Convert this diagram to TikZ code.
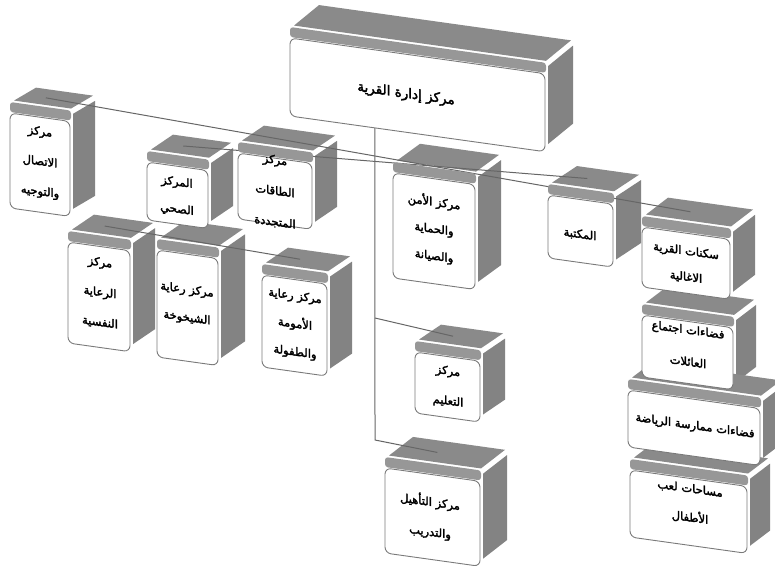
\documentclass[tikz,border=0pt]{standalone}
\usepackage{fontspec}
\newfontfamily\arabicfont[Script=Arabic,FakeBold=2.5]{DejaVu Sans}
\TeXXeTstate=1
\newcommand\artxt[1]{\beginR #1\endR}
\newcommand\lsp[1]{\arabicfont\fontsize{11.5}{#1}\selectfont}
\definecolor{panelc}{HTML}{8A8A8A}
\definecolor{sidec}{HTML}{838383}
\definecolor{lipc}{HTML}{979797}
\definecolor{bordergrey}{HTML}{7A7A7A}
\definecolor{linegrey}{HTML}{666666}
\pgfdeclarelayer{back}
\pgfdeclarelayer{lines}
\pgfsetlayers{back,lines,main}
\tikzset{
  face/.style={fill=white, draw=bordergrey, line width=0.9pt, rounded corners=6pt},
  label/.style={align=center, transform shape, inner sep=0pt},
  conn/.style={draw=linegrey, line width=1pt},
}
\newcommand\drawunit[9]{%
  \begin{scope}[shift={(#2,#3)}, yslant=-0.14]
    \begin{pgfonlayer}{back}
      \fill[panelc] (4,-13) -- (#4+1,-13) -- (#4+1+#6,-13-#7) -- (4+#6,-13-#7) -- cycle;
      \fill[sidec] (#4+3,-8) -- (#4+3+#6,-8-#7) -- (#4+3+#6,#5-8-#7) -- (#4+3,#5-8) -- cycle;
    \end{pgfonlayer}
    \fill[lipc, rounded corners=3pt] (0,-11) rectangle (#4+1,-1);
    \draw[face] (0,0) rectangle (#4,#5);
    \node[label,#8] (#1) {#9};
    \coordinate (#1-top) at (0.45*#4+0.4*#6, -13-0.45*#7);
    \coordinate (#1-bot) at (0.333*#4, #5);
  \end{scope}}
\begin{document}
\begin{tikzpicture}[x=1pt,y=-1pt]
\useasboundingbox (0,0) rectangle (775,566);
\drawunit{main}{290}{38}{255}{78}{25}{24}{at={(116,40)}, font=\arabicfont\fontsize{13.5}{16}\selectfont}{\artxt{مركز إدارة القرية}}
\drawunit{ittisal}{10}{113}{60}{95}{22}{16}{at={(30,45)},font=\lsp{30}}{\artxt{مركز}\\\artxt{الاتصال}\\\artxt{والتوجيه}}
\drawunit{sihhi}{147}{162}{61}{58}{22}{18}{at={(30,30)},font=\lsp{27}}{\artxt{المركز}\\\artxt{الصحي}}
\drawunit{taqat}{238}{153}{74}{66}{22}{18}{at={(37,33)},font=\lsp{31}}{\artxt{مركز}\\\artxt{الطاقات}\\\artxt{المتجددة}}
\drawunit{amn}{393}{173}{82}{105}{23}{20}{at={(41,50)},font=\lsp{27}}{\artxt{مركز الأمن}\\\artxt{والحماية}\\\artxt{والصيانة}}
\drawunit{maktaba}{548}{195}{65}{63}{25}{20}{at={(32,35)},font=\lsp{14}}{\artxt{المكتبة}}
\drawunit{sakanat}{642}{227}{88}{60}{22}{20}{at={(44,31)},font=\lsp{26}}{\artxt{سكنات القرية}\\\artxt{الاغالية}}
\drawunit{ijtima}{642}{315}{91}{62}{20}{18}{at={(46,24)},font=\lsp{32}}{\artxt{فضاءات اجتماع}\\\artxt{العائلات}}
\drawunit{riyada}{628}{390}{132}{57}{20}{18}{at={(67,27)},font=\lsp{14}}{\artxt{فضاءات ممارسة الرياضة}}
\drawunit{atfal}{630}{470}{117}{67}{20}{18}{at={(60,25)},font=\lsp{29}}{\artxt{مساحات لعب}\\\artxt{الأطفال}}
\drawunit{nafsiya}{68}{242}{62}{101}{22}{18}{at={(32,46)},font=\lsp{30}}{\artxt{مركز}\\\artxt{الرعاية}\\\artxt{النفسية}}
\drawunit{shaykh}{157}{250}{61}{107}{24}{20}{at={(30,50)},font=\lsp{28}}{\artxt{مركز رعاية}\\\artxt{الشيخوخة}}
\drawunit{umuma}{262}{275}{65}{92}{22}{18}{at={(33,45)},font=\lsp{28}}{\artxt{مركز رعاية}\\\artxt{الأمومة}\\\artxt{والطفولة}}
\drawunit{taalim}{415}{352}{65}{61}{22}{18}{at={(33,30)},font=\lsp{30}}{\artxt{مركز}\\\artxt{التعليم}}
\drawunit{taahil}{385}{468}{95}{85}{24}{22}{at={(45,42)},font=\lsp{30}}{\artxt{مركز التأهيل}\\\artxt{والتدريب}}
\coordinate (j1) at (375,318);
\coordinate (j2) at (375,440);
\begin{pgfonlayer}{lines}
  \draw[conn] (ittisal-top) -- (sakanat-top);
  \draw[conn] (sihhi-top) -- (maktaba-top);
  \draw[conn] (nafsiya-top) -- (umuma-top);
  \draw[conn] (main-bot) -- (j2) -- (taahil-top);
  \draw[conn] (j1) -- (taalim-top);
\end{pgfonlayer}
\end{tikzpicture}
\end{document}
